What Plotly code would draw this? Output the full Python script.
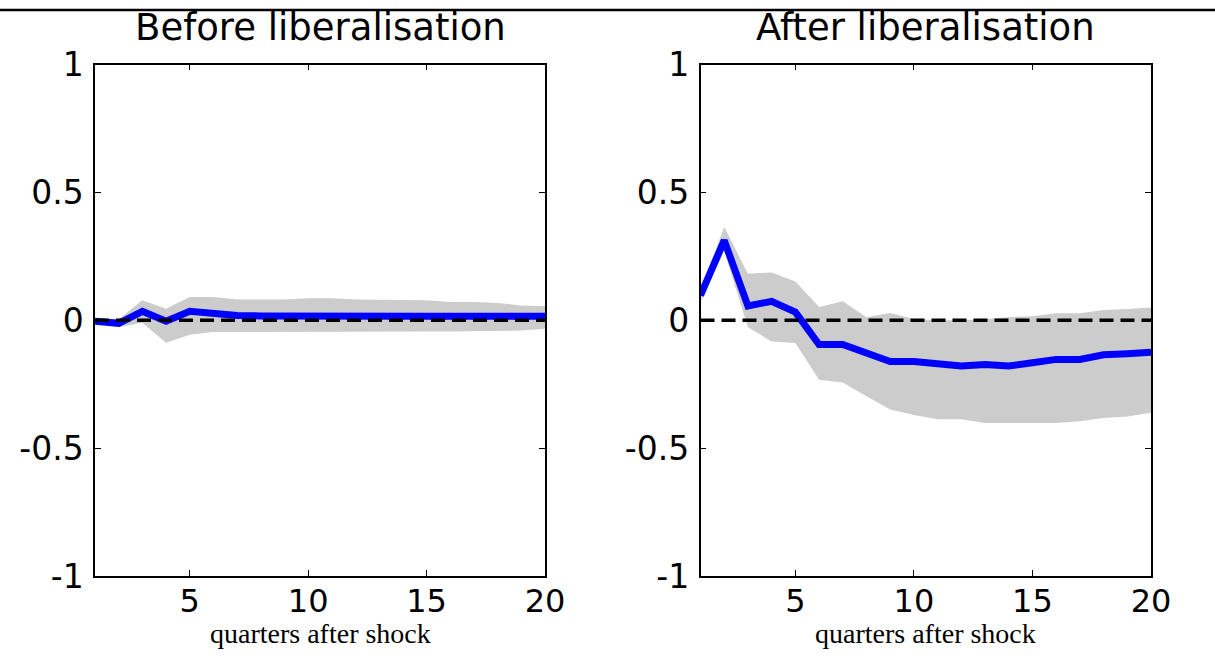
import plotly.graph_objects as go

# Impulse responses with confidence bands, before and after liberalisation
quarters = [1, 2, 3, 4, 5, 6, 7, 8, 9, 10, 11, 12, 13, 14, 15, 16, 17, 18, 19, 20]

before_irf = [-0.004, -0.012, 0.035, -0.004, 0.035, 0.025, 0.019, 0.017, 0.016, 0.016,
              0.016, 0.016, 0.016, 0.016, 0.016, 0.016, 0.016, 0.016, 0.016, 0.016]
before_upper = [0.005, 0.004, 0.078, 0.045, 0.091, 0.091, 0.081, 0.081, 0.081, 0.086,
                0.086, 0.081, 0.080, 0.080, 0.078, 0.071, 0.071, 0.067, 0.058, 0.055]
before_lower = [-0.010, -0.027, -0.010, -0.088, -0.057, -0.046, -0.044, -0.044, -0.044, -0.044,
                -0.044, -0.044, -0.044, -0.044, -0.044, -0.044, -0.044, -0.042, -0.040, -0.033]

after_irf = [0.097, 0.312, 0.056, 0.074, 0.032, -0.095, -0.095, -0.125, -0.161, -0.161,
             -0.173, -0.179, -0.173, -0.179, -0.166, -0.153, -0.153, -0.135, -0.131, -0.125]
after_upper = [0.12, 0.365, 0.182, 0.187, 0.152, 0.052, 0.074, 0.012, 0.028, 0.005,
               0.0, 0.0, 0.005, 0.012, 0.016, 0.027, 0.027, 0.040, 0.044, 0.050]
after_lower = [0.07, 0.27, -0.027, -0.083, -0.089, -0.233, -0.243, -0.297, -0.349, -0.370,
               -0.387, -0.387, -0.402, -0.402, -0.402, -0.402, -0.395, -0.382, -0.376, -0.362]

panel_titles = ["Before liberalisation", "After liberalisation"]
x_title = "quarters after shock"
x_tickvals = [5, 10, 15, 20]
x_ticktext = ["5", "10", "15", "20"]
y_tickvals = [-1, -0.5, 0, 0.5, 1]
y_ticktext = ["-1", "-0.5", "0", "0.5", "1"]

W, H = 1215, 658
BAND = "#cccccc"
IRF = "#0000ff"
SANS = "DejaVu Sans"
SERIF = "Liberation Serif"

# panel placement in pixels (left, right), shared top/bottom
panel_px = [(95, 545), (700.5, 1151)]
top_px, bottom_px = 64.5, 576

fig = go.Figure()

panels = [
    (before_irf, before_upper, before_lower),
    (after_irf, after_upper, after_lower),
]

for i, (irf, upper, lower) in enumerate(panels):
    xa = "x" if i == 0 else "x2"
    ya = "y" if i == 0 else "y2"
    fig.add_trace(go.Scatter(
        x=quarters + quarters[::-1], y=upper + lower[::-1],
        fill="toself", fillcolor=BAND, line=dict(width=0, color=BAND),
        mode="lines", hoverinfo="skip", showlegend=False, xaxis=xa, yaxis=ya))
    fig.add_trace(go.Scatter(
        x=quarters, y=irf, mode="lines",
        line=dict(color=IRF, width=7), showlegend=False, xaxis=xa, yaxis=ya))
    fig.add_trace(go.Scatter(
        x=[quarters[0], quarters[-1]], y=[0, 0], mode="lines",
        line=dict(color="black", width=3.5, dash="14px,7px"),
        showlegend=False, xaxis=xa, yaxis=ya))

axis_common = dict(showgrid=False, zeroline=False, showline=True, linecolor="black",
                   linewidth=1.5, mirror="ticks", ticks="inside", ticklen=6,
                   tickwidth=1.2, tickcolor="black", automargin=False)

ydom = [1 - bottom_px / H, 1 - top_px / H]
for i, (l, r) in enumerate(panel_px):
    sfx = "" if i == 0 else str(i + 1)
    fig.update_layout(**{
        "xaxis" + sfx: dict(axis_common, domain=[l / W, r / W], range=[1, 20],
                            tickvals=x_tickvals, ticktext=x_ticktext,
                            tickfont=dict(family=SANS, size=32, color="black"),
                            ticklabelstandoff=-4,
                            anchor="y" + sfx),
        "yaxis" + sfx: dict(axis_common, domain=ydom, range=[-1, 1],
                            tickvals=y_tickvals, ticktext=y_ticktext,
                            tickfont=dict(family=SANS, size=33, color="black"),
                            ticklabelstandoff=3,
                            anchor="x" + sfx),
    })
    cx = (l + r) / 2 / W
    fig.add_annotation(text=panel_titles[i], x=cx, y=1 - 28 / H, xref="paper", yref="paper",
                       xanchor="center", yanchor="middle", showarrow=False,
                       font=dict(family=SANS, size=37, color="black"))
    fig.add_annotation(text=x_title, x=cx, y=1 - 633 / H, xref="paper", yref="paper",
                       xanchor="center", yanchor="middle", showarrow=False,
                       font=dict(family=SERIF, size=28, color="black"))

# rule across the top of the figure
fig.add_shape(type="line", xref="paper", yref="paper", x0=0, x1=1,
              y0=1 - 10 / H, y1=1 - 10 / H, line=dict(color="black", width=2.5))

fig.update_layout(width=W, height=H, margin=dict(l=0, r=0, t=0, b=0, pad=0, autoexpand=False),
                  paper_bgcolor="white", plot_bgcolor="white", showlegend=False)

fig.write_html("out.html")
